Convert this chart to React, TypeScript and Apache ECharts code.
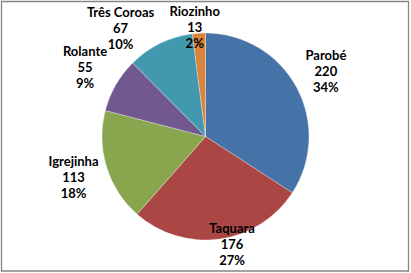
import React, { useEffect, useRef } from "react";
import * as echarts from "echarts";

const categories = ["Parobé", "Taquara", "Igrejinha", "Rolante", "Três Coroas", "Riozinho"];
const values = [220, 176, 113, 55, 67, 13];
const colors = ["#4572A7", "#AA4643", "#89A54E", "#71588F", "#4198AF", "#DB843D"];

// label placement (distance from pie centre, optional angle shift in degrees)
const labelDist = [137, 111, 138, 139, 138, 110];
const labelShift = [0, -6, 0, 0, -12, -2];

const W = 411;
const H = 273;
const CX = 205.5;
const CY = 136.5;
const R = 103.5;

export default function App() {
  const ref = useRef<HTMLDivElement>(null);
  useEffect(() => {
    if (!ref.current) return;
    const chart = echarts.init(ref.current, null, { renderer: "svg" });
    const total = values.reduce((a, b) => a + b, 0);
    const cum: number[] = [];
    let acc = 0;
    values.forEach((v) => {
      cum.push(acc + v / 2);
      acc += v;
    });
    chart.setOption({
      animation: false,
      backgroundColor: "#fff",
      graphic: [
        {
          type: "rect",
          shape: { x: 1.5, y: 1.5, width: 407, height: 269.5 },
          style: { fill: "none", stroke: "#868686", lineWidth: 1.3 },
          silent: true,
          z: 100,
        },
      ],
      series: [
        {
          type: "pie",
          center: [CX, CY],
          radius: R,
          startAngle: 90,
          clockwise: true,
          avoidLabelOverlap: false,
          itemStyle: { borderColor: "rgba(255,255,255,0.6)", borderWidth: 0.5 },
          label: {
            show: true,
            position: "outside",
            formatter: (p: any) => `${p.name}\n${p.value}\n${Math.round(p.percent)}%`,
            fontFamily: "Lato",
            fontWeight: "bold",
            fontSize: 13,
            lineHeight: 16,
            color: "#000",
            align: "center",
          },
          labelLine: { show: false },
          labelLayout: (params: any) => {
            const i = params.dataIndex;
            const ang = ((cum[i] / total) * 360 + labelShift[i]) * (Math.PI / 180);
            const d = labelDist[i];
            return {
              x: CX + d * Math.sin(ang),
              y: CY - d * Math.cos(ang),
              align: "center",
              verticalAlign: "middle",
            };
          },
          data: categories.map((c, i) => ({
            name: c,
            value: values[i],
            itemStyle: { color: colors[i] },
          })),
        },
      ],
    });
    return () => chart.dispose();
  }, []);
  return (
    <div
      ref={ref}
      style={{ position: "fixed", left: 0, top: 0, width: W, height: H }}
    />
  );
}
